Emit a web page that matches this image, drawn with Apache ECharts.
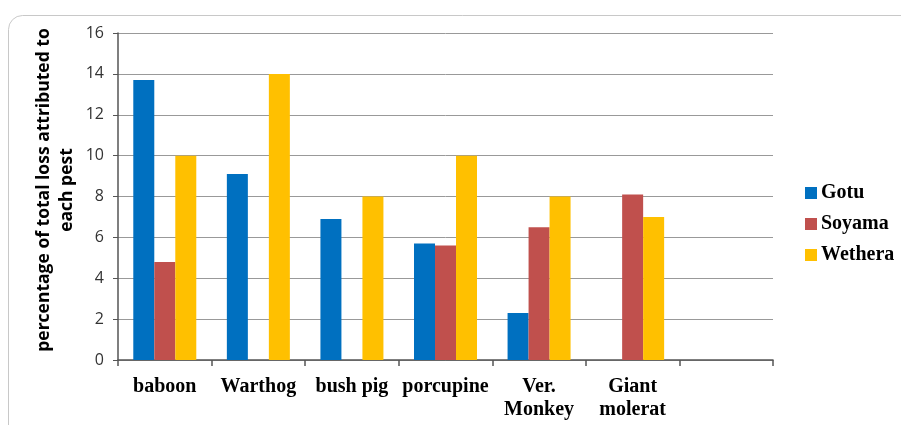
<!DOCTYPE html>
<html><head><meta charset="utf-8">
<script src="https://cdn.jsdelivr.net/npm/echarts@6/dist/echarts.min.js"></script>
<style>html,body{margin:0;padding:0;background:#fff}#c{width:901px;height:425px}</style>
</head><body><div id="c"></div>
<script>
const categories = ["baboon", "Warthog", "bush pig", "porcupine", "Ver.\nMonkey", "Giant\nmolerat", ""];
const gotu = [13.7, 9.1, 6.9, 5.7, 2.3, null, null];
const soyama = [4.8, null, null, 5.6, 6.5, 8.1, null];
const wethera = [10, 14, 8, 10, 8, 7, null];
const yTicks = [0, 2, 4, 6, 8, 10, 12, 14, 16];

const chart = echarts.init(document.getElementById('c'));
const mk = (name, data, color) => ({
  name, type: 'bar', data, barWidth: 21, barGap: '0%',
  itemStyle: { color }, emphasis: { disabled: true }
});
chart.setOption({
  animation: false,
  graphic: [{
    type: 'rect', shape: { x: 8.5, y: 15.5, width: 1000, height: 500, r: 14 },
    style: { fill: 'none', stroke: '#c8c8c8', lineWidth: 1 }, silent: true
  }, {
    type: 'text', x: 56, y: 190, rotation: Math.PI / 2,
    style: {
      text: 'percentage of total loss attributed to\neach pest',
      font: 'bold 17.5px "Open Sans", sans-serif', fill: '#000', align: 'center', verticalAlign: 'middle', lineHeight: 23
    }
  }],
  grid: { left: 118, top: 33, width: 655, height: 327, containLabel: false },
  legend: {
    orient: 'vertical', left: 800, top: 178, itemWidth: 12, itemHeight: 12, itemGap: 11,
    icon: 'rect',
    textStyle: { fontFamily: '"Liberation Serif", serif', fontWeight: 'bold', fontSize: 20, color: '#000', padding: [0, 0, 0, -1] },
    data: ['Gotu', 'Soyama', 'Wethera']
  },
  xAxis: {
    type: 'category', data: categories,
    axisLine: { lineStyle: { color: '#555', width: 1.5 } },
    axisTick: { show: true, length: 6, lineStyle: { color: '#555', width: 1.5 } },
    axisLabel: { fontFamily: '"Liberation Serif", serif', fontWeight: 'bold', fontSize: 20, color: '#000', margin: 15, lineHeight: 23, interval: 0 }
  },
  yAxis: {
    type: 'value', min: 0, max: 16, interval: 2,
    axisLine: { show: true, lineStyle: { color: '#555', width: 1.5 } },
    axisTick: { show: true, length: 5, lineStyle: { color: '#555' } },
    splitLine: { lineStyle: { color: '#999', width: 1 } },
    axisLabel: { fontFamily: '"Open Sans", sans-serif', fontSize: 16, color: '#333', margin: 14,
      formatter: v => yTicks.includes(v) ? String(v) : '' }
  },
  series: [mk('Gotu', gotu, '#0070c0'), mk('Soyama', soyama, '#c0504d'), mk('Wethera', wethera, '#ffc000')]
});
</script></body></html>
